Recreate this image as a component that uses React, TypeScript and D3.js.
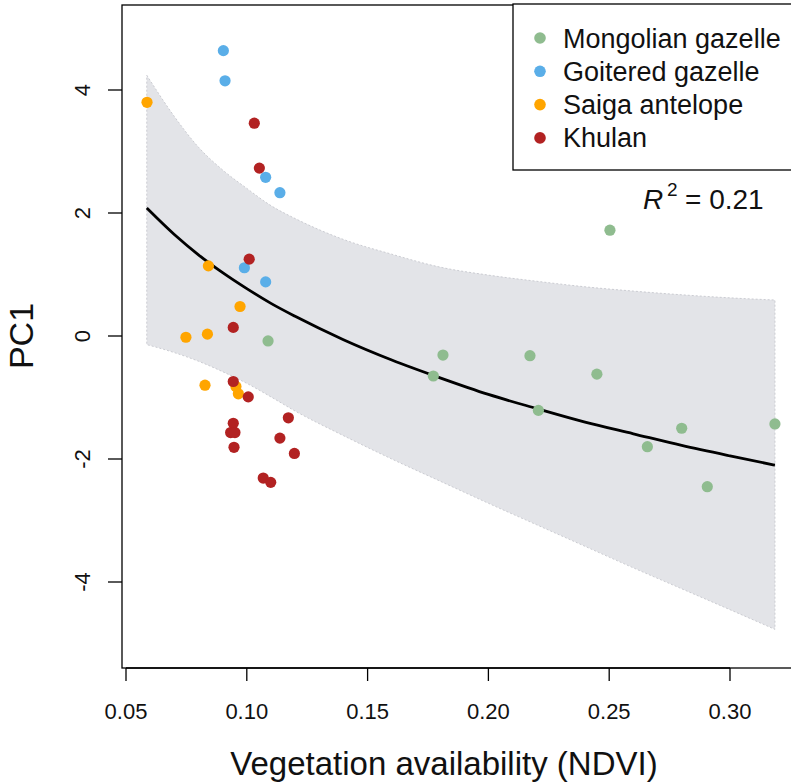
import React from "react";
import * as d3 from "d3";

// ---- data ----
const speciesNames = ["Mongolian gazelle", "Goitered gazelle", "Saiga antelope", "Khulan"];
const speciesColors = ["#8fbc8f", "#5aaee8", "#ffa500", "#b22222"];

const mongolianX = [0.2503, 0.1088, 0.1812, 0.2172, 0.2449, 0.1772, 0.2207, 0.28, 0.2658, 0.3186, 0.2906];
const mongolianY = [1.72, -0.08, -0.31, -0.32, -0.62, -0.65, -1.21, -1.5, -1.8, -1.43, -2.45];

const goiteredX = [0.0903, 0.091, 0.1078, 0.1137, 0.099, 0.1078];
const goiteredY = [4.64, 4.15, 2.58, 2.33, 1.11, 0.88];

const saigaX = [0.0587, 0.0841, 0.0972, 0.0748, 0.0837, 0.0827, 0.0955, 0.0965];
const saigaY = [3.8, 1.14, 0.48, -0.02, 0.03, -0.8, -0.82, -0.94];

const khulanX = [0.1031, 0.1052, 0.101, 0.0944, 0.0944, 0.1006, 0.1172, 0.0944, 0.0933, 0.0951, 0.1137, 0.0947, 0.1197, 0.1068, 0.1099];
const khulanY = [3.46, 2.73, 1.25, 0.14, -0.74, -0.99, -1.33, -1.42, -1.57, -1.57, -1.66, -1.81, -1.91, -2.31, -2.38];

const fitX = [0.0586, 0.07, 0.08, 0.09, 0.1, 0.11, 0.12, 0.14, 0.16, 0.18, 0.2, 0.22, 0.24, 0.26, 0.28, 0.3, 0.3186];
const fitY = [2.08, 1.65, 1.32, 1.03, 0.77, 0.53, 0.32, -0.06, -0.39, -0.68, -0.95, -1.18, -1.4, -1.59, -1.78, -1.95, -2.1];
const bandUpper = [4.24, 3.57, 3.07, 2.7, 2.4, 2.12, 1.91, 1.57, 1.33, 1.12, 0.99, 0.89, 0.8, 0.73, 0.67, 0.62, 0.585];
const bandLower = [-0.14, -0.27, -0.41, -0.58, -0.77, -0.99, -1.22, -1.62, -2.0, -2.36, -2.72, -3.07, -3.42, -3.77, -4.11, -4.45, -4.77];

const xTicks = [0.05, 0.1, 0.15, 0.2, 0.25, 0.3];
const yTicks = [-4, -2, 0, 2, 4];
const r2Label = "0.21";

export default function App() {
  const W = 791, H = 782;
  const left = 122, top = 5, right = 805, bottom = 668;
  const x = d3.scaleLinear().domain([0.05, 0.3]).range([126, 730]);
  const y = d3.scaleLinear().domain([-4, 4]).range([582, 90]);

  const groups = [
    { xs: mongolianX, ys: mongolianY },
    { xs: goiteredX, ys: goiteredY },
    { xs: saigaX, ys: saigaY },
    { xs: khulanX, ys: khulanY },
  ];

  const bandData = fitX.map((v, i) => ({ x: v, lo: bandLower[i], hi: bandUpper[i] }));
  const area = d3
    .area<{ x: number; lo: number; hi: number }>()
    .x((d) => x(d.x))
    .y0((d) => y(d.lo))
    .y1((d) => y(d.hi))
    .curve(d3.curveMonotoneX);
  const line = d3
    .line<number>()
    .x((_, i) => x(fitX[i]))
    .y((d) => y(d))
    .curve(d3.curveMonotoneX);

  const font = "'Liberation Sans', Arial, sans-serif";

  return (
    <svg width={W} height={H} style={{ position: "absolute", left: 0, top: 0 }} fontFamily={font}>
      <rect x={0} y={0} width={W} height={H} fill="#fff" />
      <path d={area(bandData) || ""} fill="#e3e4e8" stroke="#cbccd2" strokeWidth={1} strokeDasharray="2,2" />
      <path d={line(fitY) || ""} fill="none" stroke="#000" strokeWidth={2.8} />
      {groups.map((g, gi) =>
        g.xs.map((xv, i) => (
          <circle key={gi + "-" + i} cx={x(xv)} cy={y(g.ys[i])} r={5.6} fill={speciesColors[gi]} />
        ))
      )}
      {/* plot box */}
      <rect x={left} y={top} width={right - left} height={bottom - top} fill="none" stroke="#000" strokeWidth={1.3} />
      {/* x axis */}
      <line x1={x(0.05)} x2={x(0.3)} y1={bottom} y2={bottom} stroke="#000" strokeWidth={1.3} />
      {xTicks.map((t) => (
        <g key={t}>
          <line x1={x(t)} x2={x(t)} y1={bottom} y2={bottom + 13} stroke="#000" strokeWidth={1.3} />
          <text x={x(t)} y={719} fontSize={22} textAnchor="middle" fill="#111">
            {d3.format(".2f")(t)}
          </text>
        </g>
      ))}
      {yTicks.map((t) => (
        <g key={t}>
          <line x1={left - 14} x2={left} y1={y(t)} y2={y(t)} stroke="#000" strokeWidth={1.3} />
          <text
            transform={`translate(${89.5},${y(t)}) rotate(-90)`}
            fontSize={22}
            textAnchor="middle"
            fill="#111"
          >
            {t}
          </text>
        </g>
      ))}
      <text x={444} y={775} fontSize={33} textAnchor="middle" fill="#111">
        Vegetation availability (NDVI)
      </text>
      <text transform={`translate(33,336) rotate(-90)`} fontSize={34} textAnchor="middle" fill="#111">
        PC1
      </text>
      {/* legend */}
      <rect x={513} y={4} width={300} height={166} fill="#fff" stroke="#000" strokeWidth={1.3} />
      {speciesNames.map((n, i) => (
        <g key={n}>
          <circle cx={540} cy={38 + i * 33.3} r={5.8} fill={speciesColors[i]} />
          <text x={563} y={38 + i * 33.3 + 9.5} fontSize={27} fill="#111">
            {n}
          </text>
        </g>
      ))}
      {/* R2 */}
      <text x={643} y={209} fontSize={28} fill="#111" fontStyle="italic">R</text>
      <text x={667} y={196} fontSize={19} fill="#111">2</text>
      <text x={685} y={209} fontSize={28} fill="#111">= {r2Label}</text>
    </svg>
  );
}
